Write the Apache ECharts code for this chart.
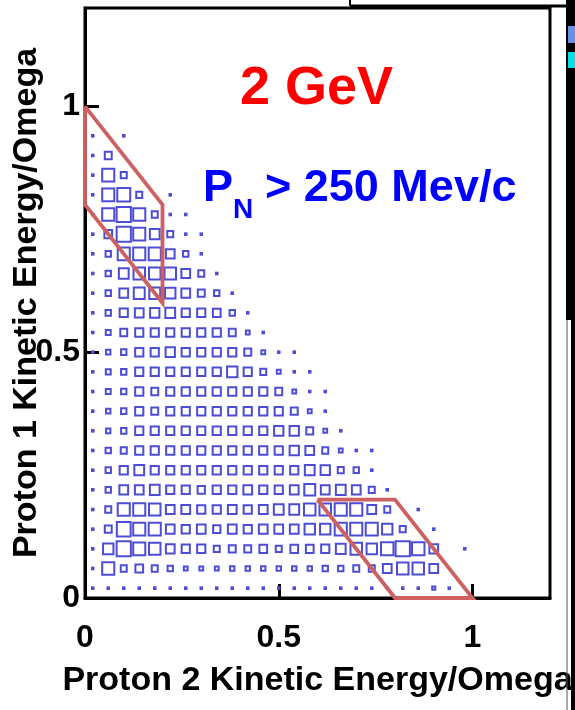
<!DOCTYPE html>
<html>
<head>
<meta charset="utf-8">
<script src="https://cdn.jsdelivr.net/npm/echarts@6/dist/echarts.min.js"></script>
<style>
  html, body { margin: 0; padding: 0; background: #ffffff; }
  #chart { width: 575px; height: 710px; }
</style>
</head>
<body>
<div id="chart"></div>
<script>
// Bin width on both axes (kinetic energy / omega)
const BIN = 0.04;

// Events per bin. One array per proton-1 row (lowest row first);
// the position in each array is the proton-2 bin, 0 = empty bin.
const row00 = [1, 1, 1, 1, 1, 1, 1, 1, 1, 1, 1, 1, 1, 1, 1, 1, 1, 1, 1, 1, 1, 1, 4, 1];
const row01 = [1, 61, 15, 25, 15, 12, 6, 6, 6, 8, 8, 8, 8, 8, 8, 12, 12, 15, 15, 32, 55, 55, 32];
const row02 = [1, 45, 85, 61, 55, 32, 28, 28, 15, 20, 20, 25, 15, 25, 25, 28, 40, 55, 45, 65, 85, 65, 32, 0, 1];
const row03 = [1, 20, 80, 61, 61, 32, 28, 32, 22, 32, 28, 32, 32, 32, 45, 45, 61, 61, 61, 45, 15, 0, 1];
const row04 = [1, 15, 61, 61, 55, 32, 32, 28, 28, 32, 28, 32, 40, 40, 55, 55, 61, 61, 32, 15, 0, 1];
const row05 = [1, 12, 32, 32, 40, 28, 28, 22, 28, 28, 32, 28, 28, 32, 50, 32, 40, 32, 15, 1];
const row06 = [1, 12, 28, 40, 28, 28, 28, 28, 28, 28, 28, 28, 28, 28, 40, 36, 15, 12, 1];
const row07 = [1, 12, 15, 28, 28, 28, 28, 28, 28, 28, 28, 28, 28, 36, 32, 15, 6, 1, 1];
const row08 = [1, 8, 12, 28, 28, 28, 28, 28, 28, 28, 28, 28, 36, 36, 20, 6, 1];
const row09 = [1, 8, 12, 28, 20, 28, 28, 28, 28, 28, 28, 28, 28, 20, 6, 1];
const row10 = [1, 10, 12, 28, 20, 28, 28, 28, 28, 28, 28, 28, 20, 6, 1, 1];
const row11 = [1, 10, 12, 28, 28, 28, 28, 28, 28, 45, 28, 15, 6, 1, 1];
const row12 = [1, 8, 12, 28, 28, 36, 28, 28, 28, 28, 20, 6, 1, 1];
const row13 = [1, 10, 20, 28, 28, 28, 28, 28, 28, 20, 6, 1];
const row14 = [1, 12, 28, 32, 36, 40, 28, 28, 25, 12, 1];
const row15 = [1, 12, 32, 50, 50, 45, 32, 20, 12, 1];
const row16 = [1, 12, 40, 55, 55, 55, 32, 15, 1];
const row17 = [1, 12, 61, 61, 61, 32, 12, 1];
const row18 = [1, 25, 85, 61, 40, 15, 1, 1];
const row19 = [1, 61, 85, 61, 15, 1, 1];
const row20 = [1, 61, 70, 15, 0, 1];
const row21 = [1, 61, 15];
const row22 = [1, 20];
const row23 = [1, 0, 1];

const rows = [row00, row01, row02, row03, row04, row05, row06, row07, row08, row09, row10, row11,
              row12, row13, row14, row15, row16, row17, row18, row19, row20, row21, row22, row23];

// Kinematic cut regions (proton 2, proton 1)
const cutUpperX = [0, 0.2, 0.2, 0, 0];
const cutUpperY = [1.0, 0.8, 0.6, 0.8, 1.0];
const cutLowerX = [0.6, 0.8, 1.0, 0.8, 0.6];
const cutLowerY = [0.2, 0.2, 0, 0, 0.2];

// Axis ranges and labelled ticks
const axisMax = 1.2;
const xTickLabels = [0, 0.5, 1];
const yTickLabels = [0, 0.5, 1];

// Histogram cells: bin centre + content
const cells = [];
rows.forEach(function (row, j) {
  row.forEach(function (v, i) {
    if (v > 0) cells.push([(i + 0.5) * BIN, (j + 0.5) * BIN, v]);
  });
});
const maxCount = Math.max.apply(null, cells.map(function (c) { return c[2]; }));

const FONT = '"Liberation Sans", Arial, Helvetica, sans-serif';
const BOX_COLOR = '#4c4cd4';
const CUT_COLOR = '#cd6060';

function tickFormatter(list) {
  return function (v) {
    for (const t of list) if (Math.abs(v - t) < 1e-9) return String(t);
    return '';
  };
}

const chart = echarts.init(document.getElementById('chart'), null, { renderer: 'canvas' });

chart.setOption({
  backgroundColor: '#ffffff',
  animation: false,
  grid: {
    left: 85, right: 25, top: 8, bottom: 112,
    containLabel: false, outerBoundsMode: 'none',
    show: true, borderColor: '#000000', borderWidth: 3, backgroundColor: 'transparent'
  },
  xAxis: {
    type: 'value', min: 0, max: axisMax, interval: 0.5,
    name: 'Proton 2 Kinetic Energy/Omega',
    nameLocation: 'middle', nameGap: 66, nameMoveOverlap: false,
    nameTextStyle: { fontFamily: FONT, fontWeight: 'bold', fontSize: 34, color: '#000' },
    axisLine: { show: true, onZero: false, lineStyle: { color: '#000', width: 3 } },
    axisTick: { show: true, inside: true, length: 14, lineStyle: { color: '#000', width: 3 } },
    axisLabel: {
      show: true, margin: 24, formatter: tickFormatter(xTickLabels), showMaxLabel: false,
      fontFamily: FONT, fontWeight: 'bold', fontSize: 32, color: '#000'
    },
    splitLine: { show: false }
  },
  yAxis: {
    type: 'value', min: 0, max: axisMax, interval: 0.5,
    name: 'Proton 1 Kinetic Energy/Omega',
    nameLocation: 'middle', nameGap: 41, nameRotate: 90, nameMoveOverlap: false,
    nameTextStyle: { fontFamily: FONT, fontWeight: 'bold', fontSize: 34, color: '#000' },
    axisLine: { show: true, onZero: false, lineStyle: { color: '#000', width: 3 } },
    axisTick: { show: true, inside: true, length: 14, lineStyle: { color: '#000', width: 3 } },
    axisLabel: {
      show: true, margin: 5, formatter: tickFormatter(yTickLabels), showMaxLabel: false,
      fontFamily: FONT, fontWeight: 'bold', fontSize: 32, color: '#000'
    },
    splitLine: { show: false }
  },
  series: [
    {
      type: 'custom',
      name: 'counts',
      data: cells,
      z: 2,
      renderItem: function (params, api) {
        const c = api.coord([api.value(0), api.value(1)]);
        const s = api.size([BIN, BIN]);
        const f = Math.sqrt(api.value(2) / maxCount);
        const w = s[0] * 0.92 * f;
        const h = s[1] * 0.76 * f;
        return {
          type: 'rect',
          shape: { x: c[0] - w / 2, y: c[1] - h / 2, width: w, height: h },
          style: { fill: 'none', stroke: BOX_COLOR, lineWidth: 2 }
        };
      }
    },
    {
      type: 'line',
      name: 'cut upper',
      data: cutUpperX.map(function (x, k) { return [x, cutUpperY[k]]; }),
      symbol: 'none', z: 5,
      lineStyle: { color: CUT_COLOR, width: 3.8, join: 'miter' }
    },
    {
      type: 'line',
      name: 'cut lower',
      data: cutLowerX.map(function (x, k) { return [x, cutLowerY[k]]; }),
      symbol: 'none', z: 5,
      lineStyle: { color: CUT_COLOR, width: 3.8, join: 'miter' }
    }
  ],
  graphic: [
    { type: 'text', z: 10, style: { text: '2 GeV', x: 240, y: 89, verticalAlign: 'middle',
      font: 'bold 54px ' + FONT, fill: '#ff0000' } },
    { type: 'text', z: 10, style: { text: 'P', x: 203, y: 189, verticalAlign: 'middle',
      font: 'bold 45px ' + FONT, fill: '#0000ff' } },
    { type: 'text', z: 10, style: { text: 'N', x: 233, y: 210, verticalAlign: 'middle',
      font: 'bold 28px ' + FONT, fill: '#0000ff' } },
    { type: 'text', z: 10, style: { text: '> 250 Mev/c', x: 265, y: 189, verticalAlign: 'middle',
      font: 'bold 45px ' + FONT, fill: '#0000ff' } },
    // surrounding slide frame pieces
    { type: 'line', z: 10, shape: { x1: 350, y1: 6, x2: 568, y2: 6 }, style: { stroke: '#000', lineWidth: 3 } },
    { type: 'line', z: 10, shape: { x1: 350, y1: 0, x2: 350, y2: 6 }, style: { stroke: '#000', lineWidth: 2 } },
    { type: 'rect', z: 10, shape: { x: 566, y: 0, width: 9, height: 320 }, style: { fill: '#000' } },
    { type: 'rect', z: 10, shape: { x: 571, y: 320, width: 4, height: 390 }, style: { fill: '#000' } },
    { type: 'line', z: 10, shape: { x1: 567, y1: 320, x2: 567, y2: 710 }, style: { stroke: '#555', lineWidth: 1 } },
    { type: 'rect', z: 11, shape: { x: 568, y: 26, width: 7, height: 17 }, style: { fill: '#6a8fe6' } },
    { type: 'rect', z: 11, shape: { x: 568, y: 52, width: 7, height: 16 }, style: { fill: '#00e0e6' } }
  ]
});
</script>
</body>
</html>
